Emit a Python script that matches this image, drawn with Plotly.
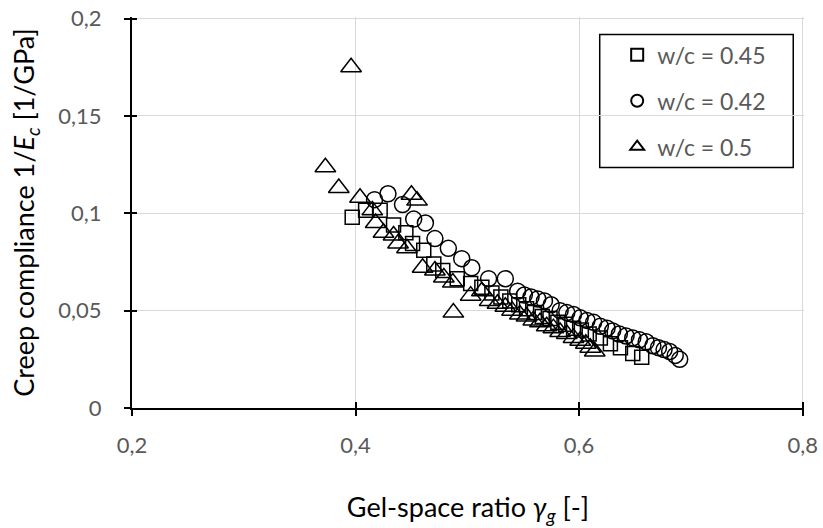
import plotly.graph_objects as go

# ---- data ----
sq_x = [0.397, 0.409, 0.422, 0.434, 0.445, 0.451, 0.461, 0.470, 0.478, 0.491, 0.503, 0.513, 0.522, 0.530,
        0.538, 0.546, 0.553, 0.560, 0.567, 0.574, 0.581, 0.588, 0.595, 0.602, 0.609, 0.619, 0.628, 0.637,
        0.648, 0.656]
sq_y = [0.098, 0.1015, 0.1015, 0.094, 0.090, 0.0845, 0.081, 0.074, 0.0706, 0.0664, 0.064, 0.062, 0.059, 0.057,
        0.055, 0.053, 0.051, 0.049, 0.047, 0.046, 0.044, 0.043, 0.041, 0.040, 0.038, 0.036, 0.033, 0.031,
        0.028, 0.026]

ci_x = [0.417, 0.429, 0.442, 0.452, 0.4625, 0.471, 0.483, 0.495, 0.504, 0.519, 0.534, 0.545, 0.551, 0.557,
        0.563, 0.569, 0.575, 0.583, 0.589, 0.595, 0.601, 0.607, 0.613, 0.619, 0.625, 0.630, 0.636, 0.642,
        0.648, 0.654, 0.660, 0.666, 0.671, 0.676, 0.681, 0.686, 0.690]
ci_y = [0.107, 0.110, 0.1045, 0.097, 0.095, 0.087, 0.082, 0.0767, 0.072, 0.0664, 0.0664, 0.060, 0.058, 0.057,
        0.056, 0.055, 0.053, 0.050, 0.049, 0.048, 0.0463, 0.045, 0.044, 0.042, 0.041, 0.0396, 0.038, 0.037,
        0.036, 0.035, 0.034, 0.032, 0.031, 0.030, 0.029, 0.027, 0.025]

tr_x = [0.373, 0.385, 0.396, 0.404, 0.415, 0.418, 0.425, 0.434, 0.438, 0.450, 0.455, 0.446, 0.460, 0.471,
        0.479, 0.487, 0.4875, 0.503, 0.513, 0.520, 0.527, 0.534, 0.540, 0.547, 0.553, 0.559, 0.565, 0.571,
        0.577, 0.583, 0.589, 0.595, 0.601, 0.606, 0.610, 0.614]
tr_y = [0.1236, 0.113, 0.175, 0.108, 0.1015, 0.095, 0.090, 0.0886, 0.0845, 0.1095, 0.1065, 0.082, 0.072, 0.0706,
        0.067, 0.0644, 0.049, 0.0577, 0.060, 0.055, 0.0535, 0.052, 0.050, 0.048, 0.047, 0.045, 0.044, 0.042,
        0.041, 0.039, 0.038, 0.036, 0.0345, 0.033, 0.031, 0.029]

series_names = ["w/c = 0.45", "w/c = 0.42", "w/c = 0.5"]
x_ticks = [0.2, 0.4, 0.6, 0.8]
y_ticks = [0, 0.05, 0.1, 0.15, 0.2]
# ranges end a hair past the last tick so the top / right gridlines are drawn
x_range = [0.2, 0.8012]
y_range = [0, 0.2008]

FONT = "Lato"
GRAY = "#595959"

fig = go.Figure()
fig.add_trace(go.Scatter(x=sq_x, y=sq_y, mode="markers", name=series_names[0], legendgroup="a",
                         marker=dict(symbol="square-open", size=14, color="black", line=dict(width=1.5))))
fig.add_trace(go.Scatter(x=ci_x, y=ci_y, mode="markers", name=series_names[1], legendgroup="b",
                         marker=dict(symbol="circle-open", size=16, color="black", line=dict(width=1.5))))
fig.add_trace(go.Scatter(x=tr_x, y=tr_y, mode="markers", name=series_names[2], legendgroup="c",
                         marker=dict(symbol="triangle-up-open", size=18, color="black", line=dict(width=1.5))))

fig.update_layout(
    width=823, height=528,
    margin=dict(l=132, r=19, t=17, b=120, autoexpand=False),
    paper_bgcolor="white", plot_bgcolor="white",
    separators=",.",
    font=dict(family=FONT, color="black"),
    showlegend=True,
    legend=dict(x=0.722, y=0.958, xanchor="left", yanchor="top",
                bgcolor="rgba(0,0,0,0)", borderwidth=0,
                font=dict(family=FONT, size=23, color=GRAY),
                tracegroupgap=13, itemsizing="constant"),
    xaxis=dict(range=x_range, tickvals=x_ticks, showgrid=True, gridcolor="#d9d9d9", gridwidth=1,
               showline=True, linecolor="black", linewidth=2, ticks="outside", ticklen=6, tickwidth=2,
               tickcolor="black", zeroline=False, tickfont=dict(size=22, color=GRAY, family=FONT),
               ticklabelstandoff=11, ticklabeloverflow="allow",
               title=dict(text="Gel-space ratio <i>γ<sub>g</sub></i> [-]", standoff=41,
                          font=dict(size=27, color="black", family=FONT))),
    yaxis=dict(range=y_range, tickvals=y_ticks, showgrid=True, gridcolor="#d9d9d9", gridwidth=1,
               showline=True, linecolor="black", linewidth=2, ticks="outside", ticklen=6, tickwidth=2,
               tickcolor="black", zeroline=False, tickfont=dict(size=22, color=GRAY, family=FONT),
               ticklabelstandoff=18, ticklabeloverflow="allow",
               title=dict(text="Creep compliance 1/<i>E<sub>c</sub></i> [1/GPa]", standoff=16,
                          font=dict(size=27, color="black", family=FONT))),
    # overlay axes only to draw the inner half of Excel-style cross tick marks
    xaxis2=dict(overlaying="x", range=x_range, tickvals=x_ticks, ticks="inside", ticklen=6,
                tickwidth=2, tickcolor="black", showticklabels=False, showgrid=False, zeroline=False,
                showline=False, side="bottom"),
    yaxis2=dict(overlaying="y", range=y_range, tickvals=y_ticks, ticks="inside", ticklen=5,
                tickwidth=2, tickcolor="black", showticklabels=False, showgrid=False, zeroline=False,
                showline=False, side="left"),
)
fig.add_trace(go.Scatter(x=[None], y=[None], xaxis="x2", yaxis="y2", showlegend=False, hoverinfo="skip"))

# legend frame (white box covering the gridlines, black border)
fig.add_shape(type="rect", xref="paper", yref="paper", x0=0.696, x1=0.984, y0=0.615, y1=0.955,
              fillcolor="white", line=dict(color="black", width=1.5), layer="between")

# remove the default page margin so the figure fills the window exactly
fig.write_html("out.html", config={"displayModeBar": False},
               post_script="document.body.style.margin='0';")
